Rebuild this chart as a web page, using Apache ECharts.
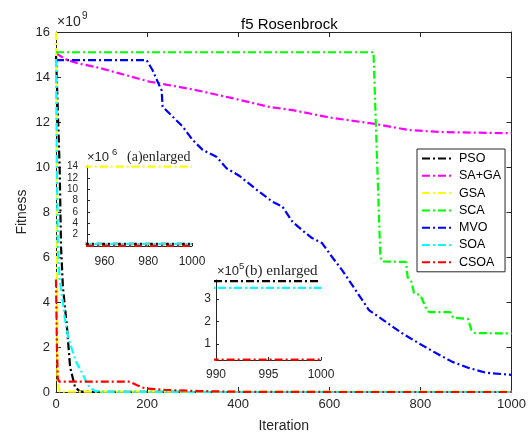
<!DOCTYPE html>
<html>
<head>
<meta charset="utf-8">
<script src="https://cdn.jsdelivr.net/npm/echarts@6/dist/echarts.min.js"></script>
<style>
  html, body { margin: 0; padding: 0; background: #fff; }
  #chart { width: 529px; height: 438px; }
</style>
</head>
<body>
<div id="chart"></div>
<script>
// convergence curves, [iteration, fitness]
const psoCurve = [[0, 1.50e10], [4, 1.25e10], [8, 1.0e10], [11, 6.5e9], [15, 4.7e9], [24, 2.9e9], [31, 1.1e9], [42, 2.0e8], [53, 2.0e7], [100, 3.0e6], [300, 1.0e6], [950, 3.8e5], [1000, 3.8e5]];
const sagaCurve = [[0, 1.505e10], [24, 1.476e10], [50, 1.46e10], [96, 1.44e10], [150, 1.41e10], [206, 1.379e10], [300, 1.345e10], [387, 1.306e10], [468, 1.267e10], [519, 1.253e10], [600, 1.22e10], [702, 1.191e10], [775, 1.164e10], [847, 1.155e10], [1000, 1.15e10]];
const gsaCurve = [[0, 1.6e10], [2, 8.0e9], [3, 5.0e8], [5, 4.5e8], [8, 2.0e7], [30, 1.5e7], [950, 1.4e7], [1000, 1.4e7]];
const scaCurve = [[0, 1.51e10], [697, 1.51e10], [702, 1.2e10], [712, 6.0e9], [716, 5.8e9], [768, 5.78e9], [772, 5.1e9], [780, 4.9e9], [786, 4.4e9], [800, 4.3e9], [815, 3.6e9], [820, 3.55e9], [865, 3.55e9], [872, 3.3e9], [904, 3.25e9], [912, 2.75e9], [920, 2.62e9], [1000, 2.6e9]];
const mvoCurve = [[0, 1.475e10], [199, 1.475e10], [212, 1.43e10], [228, 1.357e10], [232, 1.34e10], [234, 1.268e10], [256, 1.224e10], [278, 1.18e10], [300, 1.12e10], [322, 1.076e10], [352, 1.046e10], [374, 9.95e9], [403, 9.6e9], [446, 8.9e9], [475, 8.46e9], [497, 8.24e9], [519, 7.57e9], [540, 7.2e9], [562, 6.84e9], [584, 6.62e9], [606, 6.0e9], [628, 5.42e9], [650, 4.76e9], [687, 3.64e9], [724, 3.12e9], [759, 2.62e9], [796, 2.17e9], [834, 1.73e9], [869, 1.35e9], [906, 1.07e9], [943, 8.6e8], [1000, 7.6e8]];
const soaCurve = [[0, 1.48e10], [2, 1.0e10], [4, 6.5e9], [8, 5.0e9], [13, 4.3e9], [20, 3.2e9], [27, 2.4e9], [35, 1.9e9], [45, 1.3e9], [56, 9.0e8], [68, 4.0e8], [74, 2.0e8], [85, 5.0e7], [100, 1.0e7], [300, 1.0e6], [950, 3.5e5], [1000, 3.5e5]];
const csoaCurve = [[0, 5.0e9], [2, 2.0e9], [4, 6.0e8], [7, 4.6e8], [162, 4.6e8], [170, 3.8e8], [178, 3.0e8], [190, 2.0e8], [200, 1.5e8], [243, 9.0e7], [315, 4.0e7], [400, 1.0e7], [500, 2.0e6], [700, 2.0e5], [950, 3.0e4], [1000, 3.0e4]];

const names = ['PSO', 'SA+GA', 'GSA', 'SCA', 'MVO', 'SOA', 'CSOA'];
const colors = ['#000000', '#ff00ff', '#ffff00', '#00ff00', '#0000ff', '#00ffff', '#ff0000'];
const curves = [psoCurve, sagaCurve, gsaCurve, scaCurve, mvoCurve, soaCurve, csoaCurve];

const mainTicksX = [0, 1000, 200];
const mainTicksY = [0, 16, 2];
const insetATicksX = [960, 980, 1000];
const insetATicksY = [2, 4, 6, 8, 10, 12, 14];
const insetBTicksX = [990, 995, 1000];
const insetBTicksY = [1, 2, 3];

const axisColor = '#262626';
const font = 'Liberation Sans, Arial, Helvetica, sans-serif';
const serif = 'Liberation Serif, Times New Roman, serif';
const dashDot = [8, 3, 2, 3];

const scale = (curve, f) => curve.map(p => [p[0], p[1] / f]);
const plain = v => String(v);

const chart = echarts.init(document.getElementById('chart'));

function mkAxis(extra) {
    return Object.assign({
        type: 'value',
        nameMoveOverlap: false,
        axisLine: { show: true, onZero: false, lineStyle: { color: axisColor, width: 1 } },
        axisTick: { show: true, inside: true, length: 5, lineStyle: { color: axisColor } },
        axisLabel: { color: axisColor, fontFamily: font, fontSize: 13, formatter: plain },
        splitLine: { show: false }
    }, extra);
}

const series = [];
curves.forEach((c, i) => {
    series.push({
        name: names[i],
        type: 'line',
        xAxisIndex: 0,
        yAxisIndex: 0,
        data: scale(c, 1e9),
        symbol: 'none',
        lineStyle: { color: colors[i], width: 2.2, type: dashDot },
        itemStyle: { color: colors[i] },
        z: 2 + i
    });
});
// inset (a) and (b): PSO, GSA, SOA, CSOA tails
[0, 2, 5, 6].forEach((i, k) => {
    series.push({
        name: names[i] + ' a',
        type: 'line',
        xAxisIndex: 2,
        yAxisIndex: 2,
        data: scale(curves[i], 1e6),
        symbol: 'none',
        lineStyle: { color: colors[i], width: 2.2, type: dashDot },
        z: 20 + k
    });
    series.push({
        name: names[i] + ' b',
        type: 'line',
        xAxisIndex: 3,
        yAxisIndex: 3,
        data: scale(curves[i], 1e5),
        symbol: 'none',
        lineStyle: { color: colors[i], width: 2.2, type: dashDot },
        z: 20 + k
    });
});

const option = {
    animation: false,
    backgroundColor: '#fff',
    title: {
        text: 'f5 Rosenbrock',
        left: 236,
        top: 12,
        textStyle: { fontFamily: font, fontSize: 15, fontWeight: 'normal', color: '#000' }
    },
    grid: [
        { left: 56, top: 32, width: 457, height: 360 },
        { left: 87, top: 166, width: 105, height: 80 },
        { left: 216, top: 280, width: 105, height: 80 }
    ],
    legend: {
        data: names,
        orient: 'vertical',
        left: 417,
        top: 149,
        itemWidth: 32,
        itemHeight: 12,
        itemGap: 4.3,
        padding: [3, 4, 3, 4],
        borderColor: axisColor,
        borderWidth: 1,
        backgroundColor: '#fff',
        itemStyle: { opacity: 0 },
        textStyle: { fontFamily: font, fontSize: 12.5, color: '#000' },
        z: 50
    },
    xAxis: [
        mkAxis({
            gridIndex: 0, min: mainTicksX[0], max: mainTicksX[1], interval: mainTicksX[2], position: 'bottom',
            name: 'Iteration', nameLocation: 'middle', nameGap: 27,
            nameTextStyle: { fontFamily: font, fontSize: 14, color: axisColor },
            axisLabel: { color: axisColor, fontFamily: font, fontSize: 13, margin: 6, formatter: plain }
        }),
        mkAxis({
            gridIndex: 0, min: mainTicksX[0], max: mainTicksX[1], interval: mainTicksX[2], position: 'top',
            axisLabel: { show: false }
        }),
        mkAxis({
            gridIndex: 1, min: 952, max: 1000, position: 'bottom',
            axisTick: { show: true, inside: true, length: 3, customValues: insetATicksX, lineStyle: { color: axisColor } },
            axisLabel: { color: axisColor, fontFamily: font, fontSize: 12, margin: 10, customValues: insetATicksX, formatter: plain }
        }),
        mkAxis({
            gridIndex: 2, min: 990, max: 1000, position: 'bottom',
            axisTick: { show: true, inside: true, length: 3, customValues: insetBTicksX, lineStyle: { color: axisColor } },
            axisLabel: { color: axisColor, fontFamily: font, fontSize: 12, margin: 9, customValues: insetBTicksX, formatter: plain }
        })
    ],
    yAxis: [
        mkAxis({
            gridIndex: 0, min: mainTicksY[0], max: mainTicksY[1], interval: mainTicksY[2], position: 'left',
            name: 'Fitness', nameLocation: 'middle', nameGap: 27,
            nameTextStyle: { fontFamily: font, fontSize: 14, color: axisColor },
            axisLabel: { color: axisColor, fontFamily: font, fontSize: 13, margin: 6, formatter: plain }
        }),
        mkAxis({
            gridIndex: 0, min: mainTicksY[0], max: mainTicksY[1], interval: mainTicksY[2], position: 'right',
            axisLabel: { show: false }
        }),
        mkAxis({
            gridIndex: 1, min: 0, max: 14.1, position: 'left',
            axisTick: { show: true, inside: true, length: 3, customValues: insetATicksY, lineStyle: { color: axisColor } },
            axisLabel: { color: axisColor, fontFamily: font, fontSize: 10, margin: 9, customValues: insetATicksY, formatter: plain }
        }),
        mkAxis({
            gridIndex: 2, min: 0.28, max: 3.85, position: 'left',
            axisTick: { show: true, inside: true, length: 3, customValues: insetBTicksY, lineStyle: { color: axisColor } },
            axisLabel: { color: axisColor, fontFamily: font, fontSize: 12, margin: 5, customValues: insetBTicksY, formatter: plain }
        })
    ],
    graphic: [
        { type: 'text', left: 57, top: 15, style: { text: '×10', fontFamily: font, fontSize: 14, fill: axisColor } },
        { type: 'text', left: 82, top: 11, style: { text: '9', fontFamily: font, fontSize: 10, fill: axisColor } },
        { type: 'text', left: 87, top: 151, style: { text: '×10', fontFamily: font, fontSize: 13, fill: axisColor } },
        { type: 'text', left: 112, top: 147, style: { text: '6', fontFamily: font, fontSize: 9.5, fill: axisColor } },
        { type: 'text', left: 127, top: 150, style: { text: '(a)enlarged', fontFamily: serif, fontSize: 14, fill: axisColor } },
        { type: 'text', left: 217, top: 265, style: { text: '×10', fontFamily: font, fontSize: 13, fill: axisColor } },
        { type: 'text', left: 239, top: 261, style: { text: '5', fontFamily: font, fontSize: 9.5, fill: axisColor } },
        { type: 'text', left: 245, top: 264, style: { text: '(b) enlarged', fontFamily: serif, fontSize: 15, fill: axisColor } }
    ],
    series: series
};

chart.setOption(option);
</script>
</body>
</html>
